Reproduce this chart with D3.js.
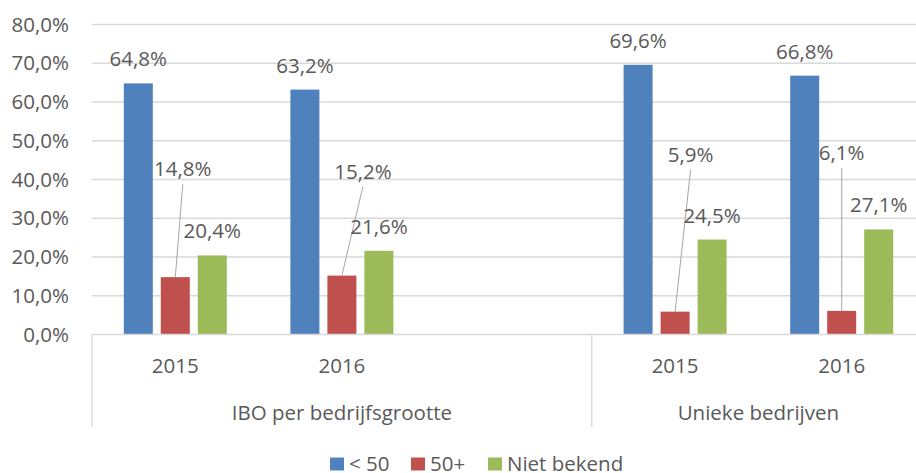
<!DOCTYPE html>
<html>
<head>
<meta charset="utf-8">
<script src="https://cdn.jsdelivr.net/npm/d3@7"></script>
<style>
  body { margin: 0; background: #fff; }
  svg { display: block; font-family: 'Open Sans', sans-serif; }
  text { fill: #595959; }
</style>
</head>
<body>
<svg id="chart" width="916" height="473"></svg>
<script>
// categories (empty slot between the two groups, as in the source sheet)
const groups= ['IBO per bedrijfsgrootte', 'Unieke bedrijven'];
const categories= ['2015', '2016', '', '2015', '2016'];
const categoryGroup= [0, 0, 0, 1, 1];
const seriesNames= ['< 50', '50+', 'Niet bekend'];
const under50= [64.8, 63.2, null, 69.6, 66.8];
const over50= [14.8, 15.2, null, 5.9, 6.1];
const unknown= [20.4, 21.6, null, 24.5, 27.1];
const yTicks= [0, 10, 20, 30, 40, 50, 60, 70, 80];

const colors= ['#4f81bd', '#c0504d', '#9bbb59'];
// manual label shift (px) of the "50+" labels, moved off their bars with a leader line
const redLabelShift= [[7.5, -109], [21, -105], null, [15.5, -158], [0, -158.6]];

const svg= d3.select('#chart');
const pLeft= 92, pRight= 925, pTop= 24.5, pBottom= 334.5;
const fs= 20.5;

const fmt= v => v.toFixed(1).replace('.', ',') + '%';

const x= d3.scaleBand().domain(d3.range(categories.length)).range([pLeft, pRight]);
const xs= d3.scaleBand().domain(d3.range(seriesNames.length)).range([0, 103]).paddingInner(8/37);
const y= d3.scaleLinear().domain([0, 80]).range([pBottom, pTop]);

// gridlines
svg.append('g').selectAll('line').data(yTicks.filter(t => t > 0)).join('line')
  .attr('x1', pLeft).attr('x2', pRight)
  .attr('y1', d => y(d)).attr('y2', d => y(d))
  .attr('stroke', '#d9d9d9').attr('stroke-width', 1.3);

// y axis labels
const yAxis= svg.append('g').attr('transform', `translate(${pLeft - 23},0)`)
  .call(d3.axisLeft(y).tickValues(yTicks).tickFormat(fmt).tickSize(0).tickPadding(0));
yAxis.select('.domain').remove();
yAxis.selectAll('text').attr('font-size', fs).attr('font-family', 'Open Sans').attr('fill', '#595959');

// bars
const seriesData= [under50, over50, unknown];
const rows= [];
seriesData.forEach((vals, s) => vals.forEach((v, i) => { if (v != null) rows.push({s, i, v}); }));
const bx= d => x(d.i) + x.bandwidth()/2 - 51.5 + xs(d.s);

svg.append('g').selectAll('rect').data(rows).join('rect')
  .attr('x', bx).attr('width', xs.bandwidth())
  .attr('y', d => y(d.v)).attr('height', d => y(0) - y(d.v))
  .attr('fill', d => colors[d.s]);

// x baseline and group separators
svg.append('line').attr('x1', pLeft).attr('x2', pRight).attr('y1', pBottom).attr('y2', pBottom)
  .attr('stroke', '#d9d9d9').attr('stroke-width', 1.3);
const groupEdges= [0];
categoryGroup.forEach((g, i) => { if (i > 0 && g !== categoryGroup[i-1]) groupEdges.push(i); });
groupEdges.push(categories.length);
svg.append('g').selectAll('line').data(groupEdges).join('line')
  .attr('x1', i => i < categories.length ? x(i) : pRight)
  .attr('x2', i => i < categories.length ? x(i) : pRight)
  .attr('y1', pBottom).attr('y2', 427)
  .attr('stroke', '#d9d9d9').attr('stroke-width', 1.3);

// category labels
svg.append('g').selectAll('text').data(categories).join('text')
  .attr('x', (d, i) => x(i) + x.bandwidth()/2).attr('y', 365)
  .attr('text-anchor', 'middle').attr('dominant-baseline', 'central')
  .attr('font-size', fs).text(d => d);

// group labels
svg.append('g').selectAll('text').data(groups).join('text')
  .attr('x', (d, g) => {
    const idx= categoryGroup.map((c, i) => c === g ? i : -1).filter(i => i >= 0);
    return (x(idx[0]) + x(idx[idx.length-1]) + x.bandwidth())/2;
  })
  .attr('y', 412)
  .attr('text-anchor', 'middle').attr('dominant-baseline', 'central')
  .attr('font-size', fs).text(d => d);

// value labels
const labelPos= d => {
  const cx= bx(d) + xs.bandwidth()/2;
  const ty= y(d.v);
  if (d.s === 1 && redLabelShift[d.i]) {
    const [dx, dy]= redLabelShift[d.i];
    return {x: cx + dx, y: ty + dy, bx: cx, by: ty, leader: true};
  }
  return {x: cx, y: ty - 25};
};

svg.append('g').selectAll('line').data(rows.filter(d => labelPos(d).leader)).join('line')
  .attr('x1', d => labelPos(d).x).attr('y1', d => labelPos(d).y + 16)
  .attr('x2', d => labelPos(d).bx).attr('y2', d => labelPos(d).by)
  .attr('stroke', '#a6a6a6').attr('stroke-width', 1);

svg.append('g').selectAll('text').data(rows).join('text')
  .attr('x', d => labelPos(d).x).attr('y', d => labelPos(d).y)
  .attr('text-anchor', 'middle').attr('dominant-baseline', 'central')
  .attr('font-size', fs).text(d => fmt(d.v));

// legend
const legendX= [330, 411, 488];
const lg= svg.append('g').selectAll('g').data(seriesNames).join('g')
  .attr('transform', (d, i) => `translate(${legendX[i]},462.5)`);
lg.append('rect').attr('x', 0).attr('y', -5).attr('width', 14).attr('height', 13)
  .attr('fill', (d, i) => colors[i]);
lg.append('text').attr('x', 19).attr('y', 0).attr('dominant-baseline', 'central')
  .attr('font-size', fs).text(d => d);
</script>
</body>
</html>
